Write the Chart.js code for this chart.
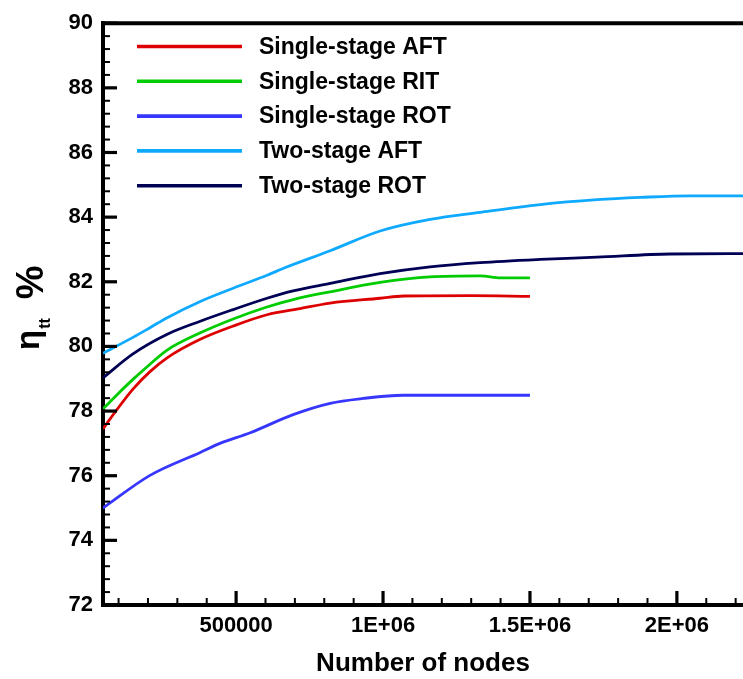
<!DOCTYPE html>
<html><head><meta charset="utf-8">
<script src="https://cdn.jsdelivr.net/npm/chart.js@4.4.1/dist/chart.umd.min.js"></script>
<style>html,body{margin:0;padding:0;background:#fff;overflow:hidden}canvas{display:block}</style>
</head><body>
<canvas id="c" width="743" height="679"></canvas>
<script>
// ---- data ----
const seriesNames = ['Single-stage AFT','Single-stage RIT','Single-stage ROT','Two-stage AFT','Two-stage ROT'];
const seriesColors = ['#dd0000','#00cc00','#3636ff','#0faaff','#000055'];

const singleAftX = [47000, 94000, 149000, 207000, 264000, 378000, 490000, 605000, 718000, 820000, 990000, 1070000, 1300000, 1500000];
const singleAftY = [77.45, 78.04, 78.68, 79.22, 79.64, 80.22, 80.63, 80.98, 81.17, 81.34, 81.49, 81.56, 81.57, 81.55];

const singleRitX = [47000, 94000, 149000, 207000, 264000, 378000, 490000, 605000, 694000, 820000, 990000, 1160000, 1330000, 1400000, 1500000];
const singleRitY = [78.07, 78.50, 78.98, 79.45, 79.88, 80.42, 80.85, 81.22, 81.45, 81.69, 81.98, 82.15, 82.18, 82.12, 82.12];

const singleRotX = [47000, 207000, 378000, 445000, 548000, 694000, 820000, 932000, 1068000, 1300000, 1500000];
const singleRotY = [75.00, 76.01, 76.72, 77.00, 77.33, 77.89, 78.24, 78.39, 78.49, 78.49, 78.49];

const twoAftX = [47000, 149000, 207000, 264000, 378000, 490000, 605000, 670000, 820000, 990000, 1160000, 1330000, 1535000, 1728000, 1875000, 2045000, 2225000];
const twoAftY = [79.79, 80.28, 80.58, 80.88, 81.39, 81.80, 82.20, 82.45, 82.96, 83.57, 83.93, 84.15, 84.39, 84.54, 84.61, 84.66, 84.66];

const twoRotX = [47000, 149000, 264000, 378000, 490000, 605000, 694000, 820000, 990000, 1160000, 1330000, 1535000, 1728000, 1977000, 2225000];
const twoRotY = [79.03, 79.77, 80.37, 80.78, 81.14, 81.49, 81.72, 81.95, 82.25, 82.46, 82.59, 82.69, 82.76, 82.86, 82.87];

const xRange = [47000, 2225000];
const yRange = [72, 90];
const xTickValues = [500000, 1000000, 1500000, 2000000];
const xTickLabels = ['500000', '1E+06', '1.5E+06', '2E+06'];
const yTickValues = [72, 74, 76, 78, 80, 82, 84, 86, 88, 90];
const xMinorStep = 100000;
const yMinorStep = 0.4;
const xTitle = 'Number of nodes';
const yTitleMain = 'η', yTitleSub = 'tt', yTitleUnit = '%';

// ---- build datasets ----
const xs = [singleAftX, singleRitX, singleRotX, twoAftX, twoRotX];
const ys = [singleAftY, singleRitY, singleRotY, twoAftY, twoRotY];
const datasets = seriesNames.map((name, i) => ({
  label: name,
  data: xs[i].map((x, j) => ({x: x, y: ys[i][j]})),
  borderColor: seriesColors[i],
  backgroundColor: seriesColors[i],
  borderWidth: 2.8,
  pointRadius: 0,
  fill: false,
  cubicInterpolationMode: 'monotone'
}));

const FONT = '"Liberation Sans", Arial, sans-serif';

const decor = {
  id: 'decor',
  afterDraw(chart) {
    const ctx = chart.ctx;
    const {left, right, top, bottom} = chart.chartArea;
    const sx = chart.scales.x, sy = chart.scales.y;
    ctx.save();
    ctx.strokeStyle = '#000';
    ctx.lineCap = 'butt';
    // inner y ticks
    const nY = Math.round((yRange[1] - yRange[0]) / yMinorStep);
    for (let i = 0; i <= nY; i++) {
      const v = yRange[0] + i * yMinorStep;
      const major = i % 5 === 0;
      const y = sy.getPixelForValue(v);
      ctx.lineWidth = major ? 3.2 : 2;
      ctx.beginPath(); ctx.moveTo(left, y); ctx.lineTo(left + (major ? 14 : 7), y); ctx.stroke();
    }
    // inner x ticks
    for (let v = xMinorStep; v <= xRange[1]; v += xMinorStep) {
      const major = v % 500000 === 0;
      const x = sx.getPixelForValue(v);
      if (x < left + 2) continue;
      ctx.lineWidth = major ? 3.2 : 2;
      ctx.beginPath(); ctx.moveTo(x, bottom); ctx.lineTo(x, bottom - (major ? 14 : 7)); ctx.stroke();
    }
    // top frame
    ctx.lineWidth = 4;
    ctx.beginPath(); ctx.moveTo(left - 2, top); ctx.lineTo(right + 2, top); ctx.stroke();

    // legend
    ctx.textBaseline = 'middle';
    ctx.textAlign = 'left';
    ctx.font = 'bold 23px ' + FONT;
    chart.data.datasets.forEach((ds, i) => {
      const y = 46.5 + i * 34.8;
      ctx.strokeStyle = ds.borderColor;
      ctx.lineWidth = 3.6;
      ctx.beginPath(); ctx.moveTo(137, y); ctx.lineTo(242, y); ctx.stroke();
      ctx.fillStyle = '#000';
      ctx.fillText(ds.label, 259, y + 1);
    });

    // y title (rotated, with subscript)
    ctx.translate(39, 350);
    ctx.rotate(-Math.PI / 2);
    ctx.textBaseline = 'alphabetic';
    ctx.fillStyle = '#000';
    ctx.font = 'bold 33px ' + FONT;
    ctx.fillText(yTitleMain, 0, 0);
    let w = ctx.measureText(yTitleMain).width;
    ctx.font = 'bold 16px ' + FONT;
    ctx.fillText(yTitleSub, w + 1, 11);
    w += ctx.measureText(yTitleSub).width + 1;
    ctx.font = 'bold 38px ' + FONT;
    ctx.fillText(yTitleUnit, w + 19, 4);
    ctx.restore();
  }
};

new Chart(document.getElementById('c'), {
  type: 'line',
  data: { datasets: datasets },
  options: {
    responsive: false,
    animation: false,
    layout: { padding: { top: 14, left: 0, right: 0, bottom: 0 } },
    plugins: { legend: { display: false }, tooltip: { enabled: false } },
    scales: {
      x: {
        type: 'linear',
        min: xRange[0], max: xRange[1],
        grid: { display: false, drawTicks: false },
        border: { display: true, color: '#000', width: 4 },
        afterBuildTicks: s => { s.ticks = xTickValues.map(v => ({value: v})); },
        afterFit: s => { s.height = 74; },
        ticks: {
          color: '#000', padding: 8, maxRotation: 0, autoSkip: false,
          font: { family: FONT, weight: 'bold', size: 22 },
          callback: v => xTickLabels[xTickValues.indexOf(v)]
        },
        title: {
          display: true, text: xTitle, color: '#000',
          font: { family: FONT, weight: 'bold', size: 26 },
          padding: { top: 10, bottom: 0 }
        }
      },
      y: {
        type: 'linear',
        min: yRange[0], max: yRange[1],
        grid: { display: false, drawTicks: false },
        border: { display: true, color: '#000', width: 4 },
        afterBuildTicks: s => { s.ticks = yTickValues.map(v => ({value: v})); },
        afterFit: s => { s.width = 103; },
        ticks: {
          color: '#000', padding: 10, autoSkip: false,
          font: { family: FONT, weight: 'bold', size: 22 },
          callback: v => String(v)
        }
      }
    }
  },
  plugins: [decor]
});
</script>
</body></html>
